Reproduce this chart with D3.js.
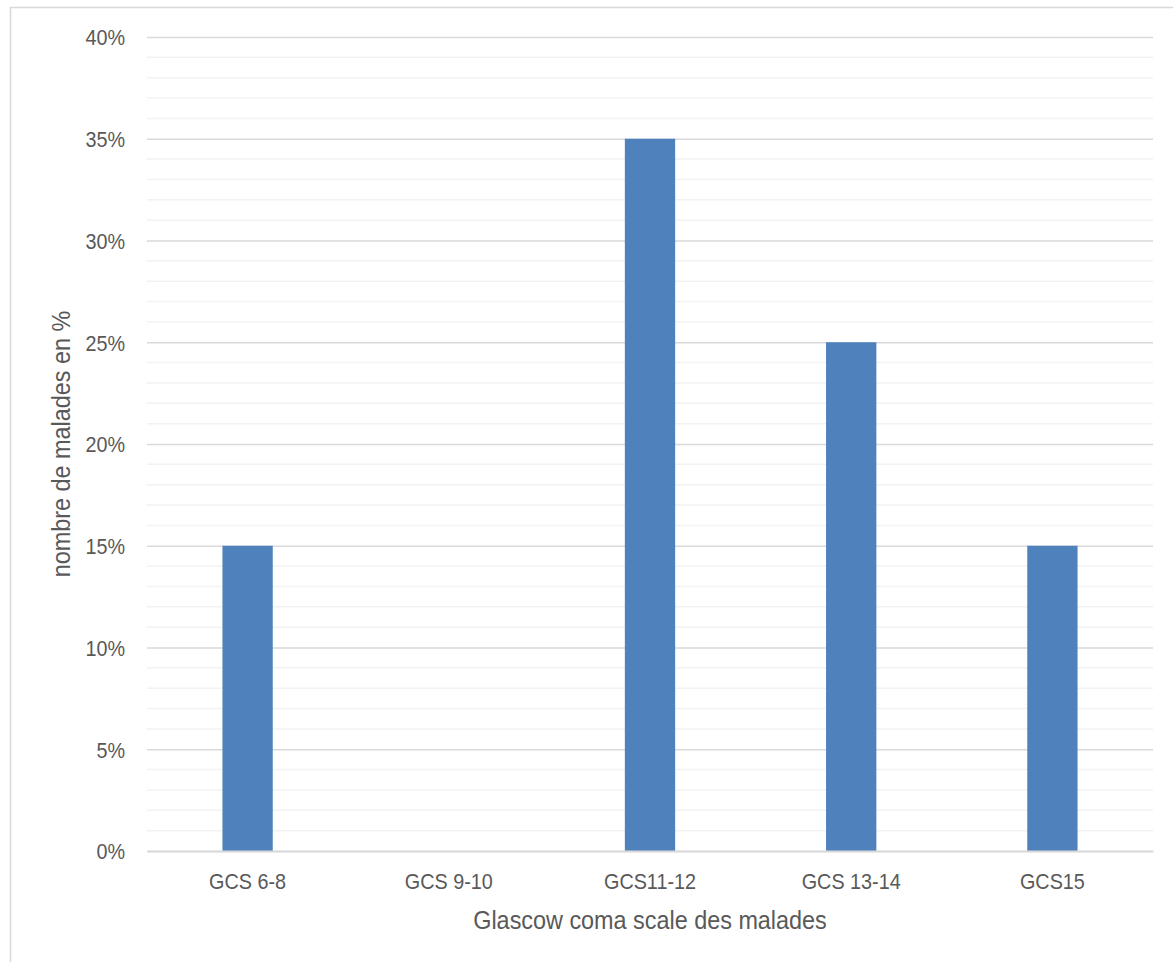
<!DOCTYPE html>
<html>
<head>
<meta charset="utf-8">
<script src="https://cdn.jsdelivr.net/npm/d3@7"></script>
<style>
  html, body { margin: 0; padding: 0; background: #fff; overflow: hidden; }
  svg text { font-family: "Liberation Sans Narrow", "Arial Narrow", "Liberation Sans", Arial, sans-serif; fill: #595959; }
</style>
</head>
<body>
<svg id="chart" width="1173" height="962"></svg>
<script>
// Patient distribution by Glasgow coma score band
const categories = ["GCS 6-8", "GCS 9-10", "GCS11-12", "GCS 13-14", "GCS15"];
const shares = [0.15, 0, 0.35, 0.25, 0.15];
const majorTicks = [0, 0.05, 0.10, 0.15, 0.20, 0.25, 0.30, 0.35, 0.40];
const minorTicks = d3.range(0, 41).map(v => v / 100);

const W = 1173, H = 962;
const margin = { top: 37, right: 20, bottom: 111, left: 147 };
const NARROW = 0.9; // horizontal squeeze for a narrow sans look
const svg = d3.select("#chart");

// outer chart frame (continues past the window edge)
svg.append("rect")
  .attr("x", 10.5).attr("y", 7.5)
  .attr("width", 1200).attr("height", 1000)
  .attr("fill", "none").attr("stroke", "#d9d9d9").attr("stroke-width", 1.5);

const x = d3.scaleBand()
  .domain(categories)
  .range([margin.left, W - margin.right])
  .paddingInner(0).paddingOuter(0);

const y = d3.scaleLinear()
  .domain([0, 0.40])
  .range([H - margin.bottom, margin.top]);

// minor gridlines
svg.append("g")
  .selectAll("line")
  .data(minorTicks.filter(v => Math.round(v * 100) % 5 !== 0))
  .join("line")
  .attr("x1", margin.left).attr("x2", W - margin.right)
  .attr("y1", d => y(d)).attr("y2", d => y(d))
  .attr("stroke", "#f2f2f2").attr("stroke-width", 1.5);

// major gridlines + labels via axis
const yAxis = d3.axisLeft(y)
  .tickValues(majorTicks)
  .tickFormat(d3.format(".0%"))
  .tickSize(-(W - margin.left - margin.right))
  .tickPadding(22);

const gy = svg.append("g")
  .attr("transform", `translate(${margin.left},0)`)
  .call(yAxis);
gy.select(".domain").remove();
gy.selectAll(".tick line").attr("stroke", "#d9d9d9").attr("stroke-width", 1.5);
gy.selectAll(".tick text")
  .attr("font-size", 22)
  .attr("x", -22 / NARROW)
  .attr("dy", "0.36em")
  .attr("transform", `scale(${NARROW},1)`)
  .style("fill", "#595959");

// bars
const barW = x.bandwidth() * 0.25;
svg.append("g")
  .selectAll("rect")
  .data(categories.map((c, i) => ({ c, v: shares[i] })))
  .join("rect")
  .attr("x", d => x(d.c) + (x.bandwidth() - barW) / 2)
  .attr("width", barW)
  .attr("y", d => y(d.v))
  .attr("height", d => y(0) - y(d.v))
  .attr("fill", "#4f81bd");

// x axis
const xAxis = d3.axisBottom(x).tickSize(0).tickPadding(22);
const gx = svg.append("g")
  .attr("transform", `translate(0,${y(0)})`)
  .call(xAxis);
gx.select(".domain").attr("stroke", "#d9d9d9").attr("stroke-width", 2);
gx.selectAll(".tick text")
  .attr("font-size", 22)
  .attr("transform", `scale(${NARROW},1)`)
  .style("fill", "#595959");

// axis titles
svg.append("g")
  .attr("transform", `translate(${(margin.left + W - margin.right) / 2},929) scale(${NARROW},1)`)
  .append("text")
  .attr("text-anchor", "middle")
  .attr("font-size", 26)
  .text("Glascow coma scale des malades");

svg.append("g")
  .attr("transform", `translate(70,${(y(0) + y(0.40)) / 2}) rotate(-90) scale(${NARROW},1)`)
  .append("text")
  .attr("text-anchor", "middle")
  .attr("font-size", 26)
  .text("nombre de malades en %");
</script>
</body>
</html>
